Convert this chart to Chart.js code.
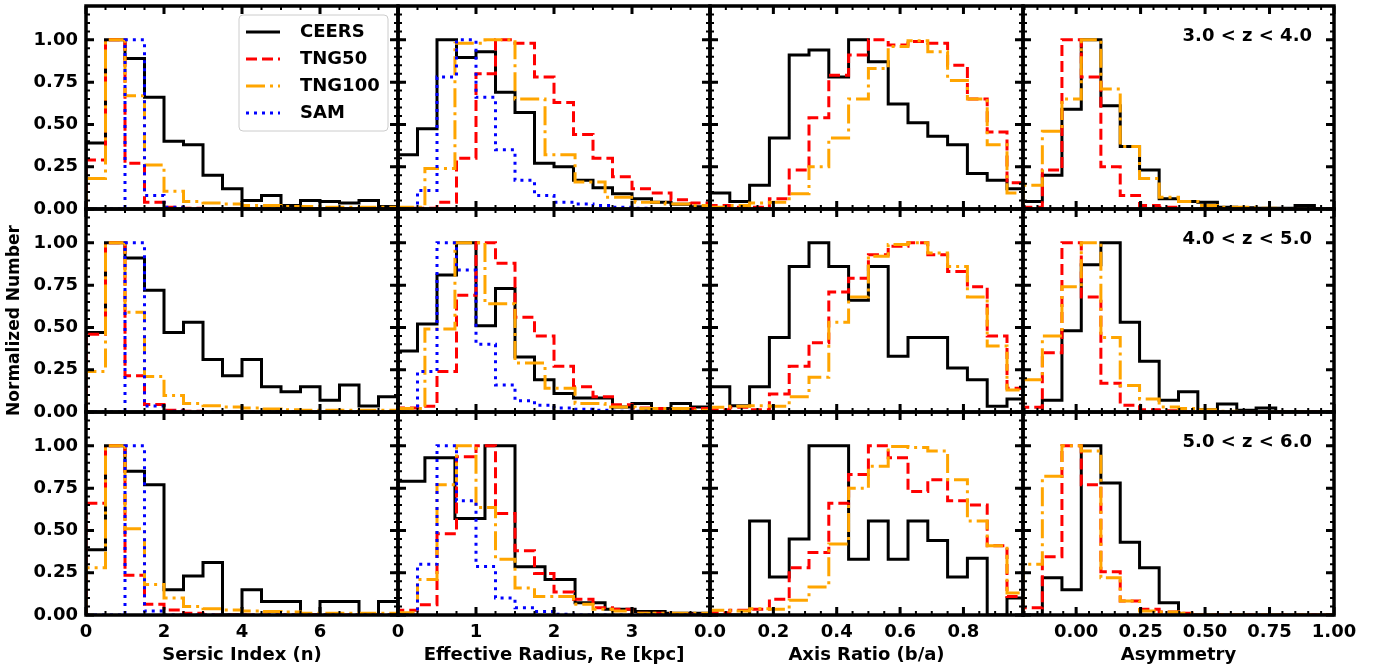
<!DOCTYPE html>
<html>
<head>
<meta charset="utf-8">
<script src="https://cdn.jsdelivr.net/npm/chart.js@4.4.1/dist/chart.umd.min.js"></script>
<style>
  html, body { margin: 0; padding: 0; background: #fff; overflow: hidden; }
  #fig { position: relative; width: 1375px; height: 666px; }
  #fig canvas { position: absolute; }
</style>
</head>
<body>
<div id="fig"></div>
<script>
// redshift bins (rows) and series names
const zBins = ['3.0 < z < 4.0', '4.0 < z < 5.0', '5.0 < z < 6.0']
const seriesNames = ['CEERS', 'TNG50', 'TNG100', 'SAM']

// bin edges
const sersicEdges = [0, 0.5, 1, 1.5, 2, 2.5, 3, 3.5, 4, 4.5, 5, 5.5, 6, 6.5, 7, 7.5, 8]
const reEdges = [0, 0.25, 0.5, 0.75, 1, 1.25, 1.5, 1.75, 2, 2.25, 2.5, 2.75, 3, 3.25, 3.5, 3.75, 4]
const reEdgesWide = [-0.04, 0.345, 0.73, 1.115, 1.5, 1.885, 2.27, 2.655, 3.04, 3.425, 3.81, 4.195]
const baEdges = [0, 0.0625, 0.125, 0.1875, 0.25, 0.3125, 0.375, 0.4375, 0.5, 0.5625, 0.625, 0.6875, 0.75, 0.8125, 0.875, 0.9375, 1]
const asymEdges = [-0.206, -0.131, -0.055, 0.02, 0.096, 0.171, 0.246, 0.322, 0.397, 0.472, 0.548, 0.623, 0.698, 0.774, 0.849, 0.924, 1.0]

// Sersic index, one row per redshift bin
const sersicCEERS = [
  [0.39, 1.0, 0.89, 0.66, 0.40, 0.38, 0.20, 0.12, 0.05, 0.08, 0.02, 0.05, 0.045, 0.035, 0.05, 0.015],
  [0.47, 1.0, 0.91, 0.72, 0.47, 0.53, 0.31, 0.215, 0.31, 0.15, 0.12, 0.15, 0.07, 0.16, 0.035, 0.09],
  [0.385, 1.0, 0.85, 0.77, 0.15, 0.23, 0.31, 0, 0.15, 0.08, 0.08, 0, 0.08, 0.08, 0, 0.08]
]
const sersicTNG50 = [
  [0.29, 1.0, 0.27, 0.04, 0.01, 0.005, 0, 0, 0, 0, 0, 0, 0, 0, 0, 0],
  [0.46, 1.0, 0.215, 0.045, 0.01, 0.005, 0, 0, 0, 0, 0, 0, 0, 0, 0, 0],
  [0.66, 1.0, 0.235, 0.063, 0.03, 0.01, 0, 0, 0, 0, 0, 0, 0, 0, 0, 0]
]
const sersicTNG100 = [
  [0.18, 1.0, 0.67, 0.26, 0.105, 0.045, 0.035, 0.03, 0.02, 0.02, 0.015, 0.015, 0.01, 0.01, 0.01, 0.01],
  [0.24, 1.0, 0.59, 0.21, 0.097, 0.05, 0.037, 0.03, 0.024, 0.018, 0.014, 0.01, 0.01, 0.01, 0.01, 0.01],
  [0.28, 1.0, 0.51, 0.18, 0.10, 0.05, 0.037, 0.03, 0.024, 0.02, 0.018, 0.01, 0.01, 0.01, 0.01, 0.01]
]
const sersicSAM = [
  [0, 0, 1.0, 0.08, 0.01, 0, 0, 0, 0, 0, 0, 0, 0, 0, 0, 0],
  [0, 0, 1.0, 0.035, 0.005, 0, 0, 0, 0, 0, 0, 0, 0, 0, 0, 0],
  [0, 0, 1.0, 0.024, 0, 0, 0, 0, 0, 0, 0, 0, 0, 0, 0, 0]
]

// effective radius
const reCEERS = [
  [0.32, 0.475, 1.0, 0.895, 0.93, 0.69, 0.57, 0.27, 0.25, 0.17, 0.125, 0.09, 0.06, 0.04, 0.028, 0.014],
  [0.36, 0.52, 0.81, 1.0, 0.51, 0.73, 0.325, 0.19, 0.11, 0.083, 0.083, 0.03, 0.05, 0.02, 0.05, 0.03],
  [0.79, 0.93, 0.57, 1.0, 0.285, 0.21, 0.073, 0.034, 0.02, 0.01, 0.01]
]
const reTNG50 = [
  [0.005, 0.005, 0.04, 0.30, 0.80, 1.0, 0.98, 0.78, 0.63, 0.44, 0.30, 0.19, 0.12, 0.095, 0.055, 0.035],
  [0.024, 0.034, 0.24, 0.69, 1.0, 0.88, 0.56, 0.45, 0.27, 0.15, 0.09, 0.043, 0.024, 0.02, 0.014, 0.02],
  [0.028, 0.06, 0.48, 0.935, 1.0, 0.6, 0.38, 0.245, 0.136, 0.093, 0.043, 0.034, 0.01, 0.01, 0.005, 0.005]
]
const reTNG100 = [
  [0.01, 0.24, 0.98, 1.0, 0.65, 0.32, 0.16, 0.07, 0.04, 0.03, 0.02],
  [0.02, 0.49, 1.0, 0.64, 0.29, 0.14, 0.05, 0.03, 0.02, 0.02, 0.01],
  [0.014, 0.21, 0.77, 1.0, 0.635, 0.33, 0.16, 0.11, 0.11, 0.063, 0.034, 0.024, 0.01, 0.01, 0.01, 0.01]
]
const reSAM = [
  [0, 0.11, 0.78, 1.0, 0.66, 0.35, 0.17, 0.08, 0.04, 0.03, 0.02, 0.01, 0.005, 0, 0, 0],
  [0, 0.24, 1.0, 0.84, 0.40, 0.16, 0.067, 0.04, 0.024, 0.016, 0.01, 0.005, 0.005, 0, 0, 0],
  [0, 0.30, 1.0, 0.675, 0.286, 0.10, 0.043, 0.02, 0.005, 0, 0, 0, 0, 0, 0, 0]
]

// axis ratio
const baCEERS = [
  [0.095, 0.044, 0.14, 0.42, 0.91, 0.94, 0.78, 1.0, 0.87, 0.62, 0.51, 0.43, 0.38, 0.21, 0.17, 0.12],
  [0.15, 0.037, 0.15, 0.44, 0.86, 1.0, 0.86, 0.66, 0.86, 0.33, 0.44, 0.44, 0.26, 0.19, 0.034, 0.077],
  [0, 0, 0.556, 0.225, 0.45, 1.0, 1.0, 0.33, 0.556, 0.33, 0.556, 0.44, 0.225, 0.335, 0, 0.1]
]
const baTNG50 = [
  [0.02, 0.01, 0.01, 0.06, 0.23, 0.54, 0.79, 0.91, 1.0, 0.97, 0.99, 0.98, 0.85, 0.65, 0.455, 0.155],
  [0.014, 0.028, 0.014, 0.106, 0.27, 0.41, 0.71, 0.79, 0.93, 0.98, 1.0, 0.93, 0.83, 0.74, 0.45, 0.14],
  [0.014, 0.028, 0.034, 0.093, 0.28, 0.37, 0.66, 0.83, 1.0, 0.93, 0.73, 0.8, 0.675, 0.65, 0.41, 0.11]
]
const baTNG100 = [
  [0.01, 0.02, 0.035, 0.04, 0.09, 0.25, 0.42, 0.65, 0.83, 0.96, 0.995, 0.93, 0.76, 0.65, 0.38, 0.095],
  [0.028, 0.034, 0.037, 0.034, 0.09, 0.205, 0.53, 0.68, 0.92, 0.99, 1.0, 0.94, 0.86, 0.68, 0.39, 0.13],
  [0.028, 0.024, 0.037, 0.034, 0.087, 0.166, 0.42, 0.75, 0.88, 0.996, 0.99, 0.97, 0.8, 0.556, 0.41, 0.13]
]

// asymmetry
const asymCEERS = [
  [0.044, 0.20, 0.59, 1.0, 0.61, 0.37, 0.23, 0.06, 0.045, 0.04, 0.01, 0.008, 0.005, 0.005, 0.02, 0],
  [0, 0.07, 0.48, 0.87, 1.0, 0.53, 0.30, 0.07, 0.12, 0.014, 0.047, 0.01, 0.024, 0, 0, 0],
  [0, 0.22, 0.15, 1.0, 0.78, 0.43, 0.28, 0.073, 0, 0, 0, 0, 0, 0, 0, 0]
]
const asymTNG50 = [
  [0.01, 0.23, 1.0, 0.78, 0.25, 0.08, 0.02, 0.01, 0, 0, 0, 0, 0, 0, 0, 0],
  [0.028, 0.35, 1.0, 0.68, 0.17, 0.04, 0.014, 0.008, 0, 0, 0, 0, 0, 0, 0, 0],
  [0.043, 0.345, 1.0, 0.77, 0.255, 0.083, 0.034, 0.018, 0.01, 0, 0, 0, 0, 0, 0, 0]
]
const asymTNG100 = [
  [0.14, 0.46, 0.65, 1.0, 0.71, 0.37, 0.18, 0.07, 0.045, 0.02, 0.01, 0.01, 0.005, 0, 0, 0],
  [0.19, 0.45, 0.74, 1.0, 0.44, 0.156, 0.077, 0.03, 0.02, 0.014, 0.005, 0, 0, 0, 0, 0],
  [0.30, 0.82, 1.0, 0.97, 0.22, 0.083, 0.024, 0.018, 0.01, 0, 0, 0, 0, 0, 0, 0]
]

// y axis ticks
const yMajor = [0, 0.25, 0.5, 0.75, 1.0]

const styles = {
  CEERS: { color: '#000000', dash: [], order: 4 },
  TNG50: { color: '#ff0000', dash: [11, 5], order: 3 },
  TNG100: { color: '#ffa500', dash: [19, 5, 3, 5], order: 2 },
  SAM: { color: '#0000ff', dash: [3, 5], order: 1 }
}

const same = e => [e, e, e]
const columns = [
  { title: 'Sersic Index (n)', min: 0, max: 8, major: [0, 2, 4, 6, 8], labels: [0, 2, 4, 6], minorStep: 0.5, digits: 0,
    series: [['CEERS', same(sersicEdges), sersicCEERS], ['TNG50', same(sersicEdges), sersicTNG50],
             ['TNG100', same(sersicEdges), sersicTNG100], ['SAM', same(sersicEdges), sersicSAM]] },
  { title: 'Effective Radius, Re [kpc]', min: 0, max: 4, major: [0, 1, 2, 3, 4], labels: [0, 1, 2, 3], minorStep: 0.25, digits: 0,
    series: [['CEERS', [reEdges, reEdges, reEdgesWide], reCEERS], ['TNG50', same(reEdges), reTNG50],
             ['TNG100', [reEdgesWide, reEdgesWide, reEdges], reTNG100], ['SAM', same(reEdges), reSAM]] },
  { title: 'Axis Ratio (b/a)', min: 0, max: 0.988, major: [0, 0.2, 0.4, 0.6, 0.8], labels: [0, 0.2, 0.4, 0.6, 0.8], minorStep: 0.05, digits: 1,
    series: [['CEERS', same(baEdges), baCEERS], ['TNG50', same(baEdges), baTNG50], ['TNG100', same(baEdges), baTNG100]] },
  { title: 'Asymmetry', min: -0.206, max: 1.0, major: [0, 0.25, 0.5, 0.75, 1.0], labels: [0, 0.25, 0.5, 0.75, 1.0], minorStep: 0.05, digits: 2,
    series: [['CEERS', same(asymEdges), asymCEERS], ['TNG50', same(asymEdges), asymTNG50], ['TNG100', same(asymEdges), asymTNG100]] }
]

const font = { family: 'DejaVu Sans', weight: 'bold', size: 18 }
const colLefts = [86, 398, 710, 1023]
const colWidths = [312, 312, 313, 311]
const rowTops = [6, 209, 412]
const rowHeight = 203
const GL = 86, GT = 6, GR = 30, GB = 51

const stepPoints = (edges, values) => {
  const pts = [{ x: edges[0], y: 0 }]
  values.forEach((v, i) => {
    pts.push({ x: edges[i], y: v }, { x: edges[i + 1], y: v })
  })
  pts.push({ x: edges[values.length], y: 0 })
  return pts
}

const minorTicks = (min, max, step) => {
  const out = []
  for (let k = Math.ceil(min / step - 1e-9); k * step <= max + 1e-9; k++) out.push(k * step)
  return out
}

const makeFrame = (col, r, c) => ({
  id: 'frame',
  afterDraw(chart) {
    const { ctx, chartArea: a, scales: { x, y } } = chart
    ctx.save()
    ctx.strokeStyle = '#000'
    const xTicks = (vals, len, w) => {
      ctx.lineWidth = w
      ctx.beginPath()
      vals.forEach(v => {
        const p = x.getPixelForValue(v)
        if (p < a.left - 0.5 || p > a.right + 0.5) return
        ctx.moveTo(p, a.bottom); ctx.lineTo(p, a.bottom - len)
        ctx.moveTo(p, a.top); ctx.lineTo(p, a.top + len)
      })
      ctx.stroke()
    }
    const yTicks = (vals, len, w) => {
      ctx.lineWidth = w
      ctx.beginPath()
      vals.forEach(v => {
        const p = y.getPixelForValue(v)
        ctx.moveTo(a.left, p); ctx.lineTo(a.left + len, p)
        ctx.moveTo(a.right, p); ctx.lineTo(a.right - len, p)
      })
      ctx.stroke()
    }
    xTicks(minorTicks(col.min, col.max, col.minorStep), 4, 2)
    xTicks(col.major, 8, 3)
    yTicks(minorTicks(0, 1.2, 0.05), 4, 2)
    yTicks(yMajor, 8, 3)
    ctx.lineWidth = 3.5
    ctx.strokeRect(a.left, a.top, a.right - a.left, a.bottom - a.top)

    ctx.fillStyle = '#000'
    ctx.font = 'bold 18px "DejaVu Sans"'
    ctx.textBaseline = 'middle'
    if (c === 3) {
      ctx.textAlign = 'right'
      ctx.fillText(zBins[r], a.right - 22, a.top + 30)
    }
    if (r === 1 && c === 0) {
      // shared y label, sits a little below the middle row's centre
      ctx.save()
      ctx.translate(15, (a.top + a.bottom) / 2 + 10)
      ctx.rotate(-Math.PI / 2)
      ctx.textAlign = 'center'
      ctx.font = 'bold 17px "DejaVu Sans"'
      ctx.fillText('Normalized Number', 0, 0)
      ctx.restore()
    }
    if (r === 0 && c === 0) {
      const lx = a.left + 153, ly = a.top + 9, lw = 149, lh = 116
      ctx.fillStyle = 'rgba(255,255,255,0.8)'
      ctx.strokeStyle = '#cccccc'
      ctx.lineWidth = 1
      ctx.beginPath()
      ctx.roundRect(lx, ly, lw, lh, 4)
      ctx.fill()
      ctx.stroke()
      ctx.textAlign = 'left'
      seriesNames.forEach((n, i) => {
        const yy = ly + 17 + 27 * i
        ctx.strokeStyle = styles[n].color
        ctx.lineWidth = 3
        ctx.setLineDash(styles[n].dash)
        ctx.beginPath()
        ctx.moveTo(lx + 7, yy); ctx.lineTo(lx + 41, yy)
        ctx.stroke()
        ctx.setLineDash([])
        ctx.fillStyle = '#000'
        ctx.fillText(n, lx + 61, yy)
      })
    }
    ctx.restore()
  }
})

const fig = document.getElementById('fig')

columns.forEach((col, c) => {
  zBins.forEach((z, r) => {
    const canvas = document.createElement('canvas')
    const w = GL + colWidths[c] + GR
    const h = GT + rowHeight + GB
    canvas.width = w
    canvas.height = h
    canvas.style.left = (colLefts[c] - GL) + 'px'
    canvas.style.top = (rowTops[r] - GT) + 'px'
    canvas.style.width = w + 'px'
    canvas.style.height = h + 'px'
    fig.appendChild(canvas)

    const datasets = col.series.map(([name, edges, vals]) => ({
      label: name,
      data: stepPoints(edges[r], vals[r]),
      borderColor: styles[name].color,
      borderDash: styles[name].dash,
      borderWidth: 3,
      order: styles[name].order,
      pointRadius: 0,
      fill: false,
      tension: 0
    }))

    new Chart(canvas, {
      type: 'line',
      data: { datasets },
      options: {
        responsive: false,
        animation: false,
        devicePixelRatio: 1,
        events: [],
        layout: { padding: { left: 0, top: GT, right: GR, bottom: 0 } },
        plugins: { legend: { display: false }, tooltip: { enabled: false } },
        scales: {
          x: {
            type: 'linear', min: col.min, max: col.max,
            grid: { display: false, drawTicks: false },
            border: { display: false },
            ticks: { display: r === 2, font, color: '#000', padding: 7, maxRotation: 0, autoSkip: false,
                     callback: v => Number(v).toFixed(col.digits) },
            afterBuildTicks: s => { s.ticks = col.labels.map(v => ({ value: v })) },
            afterFit: s => { s.height = GB; s.paddingLeft = 0; s.paddingRight = 0 },
            title: { display: r === 2, text: col.title, font, color: '#000', padding: { top: 0, bottom: 0 } }
          },
          y: {
            type: 'linear', min: 0, max: 1.2,
            grid: { display: false, drawTicks: false },
            border: { display: false },
            ticks: { display: c === 0, font, color: '#000', padding: 8, autoSkip: false,
                     callback: v => Number(v).toFixed(2) },
            afterBuildTicks: s => { s.ticks = yMajor.map(v => ({ value: v })) },
            afterFit: s => { s.width = GL; s.paddingTop = 0; s.paddingBottom = 0 }
          }
        }
      },
      plugins: [makeFrame(col, r, c)]
    })
  })
})
</script>
</body>
</html>
